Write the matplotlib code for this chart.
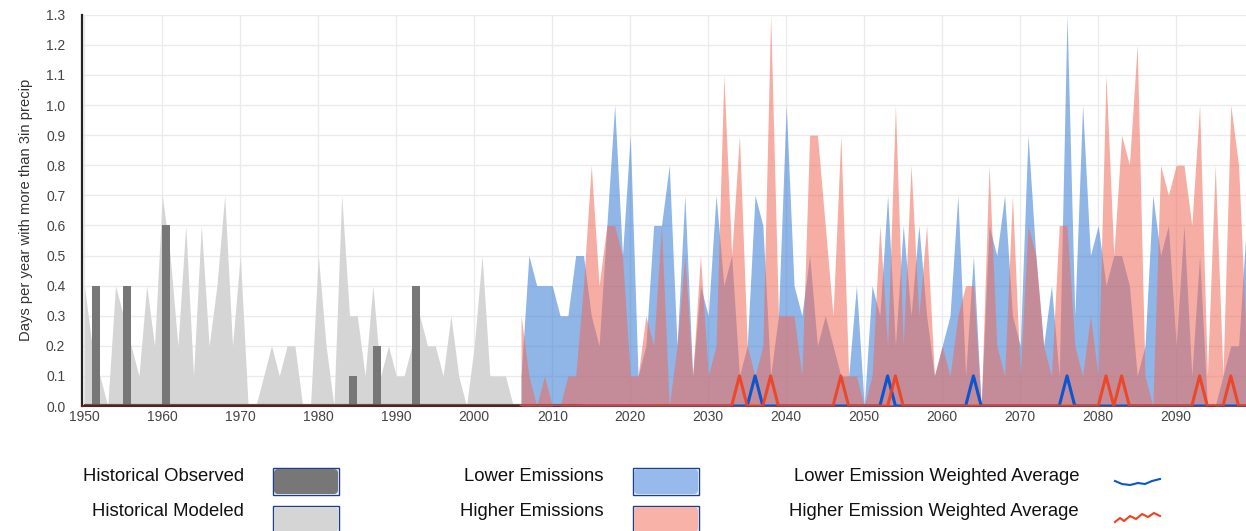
import numpy as np
import matplotlib
matplotlib.use('Agg')
import matplotlib.pyplot as plt
from matplotlib.patches import FancyBboxPatch, Rectangle

plt.rcParams['font.family'] = ['Liberation Sans', 'DejaVu Sans']

# historical modeled (gray area), 1950-2005
model_years = list(range(1950, 2006))
modeled = [0.4, 0.2, 0.1, 0.0, 0.4, 0.3, 0.2, 0.1, 0.4, 0.2,
           0.7, 0.5, 0.2, 0.6, 0.1, 0.6, 0.2, 0.4, 0.7, 0.2,
           0.5, 0.0, 0.0, 0.1, 0.2, 0.1, 0.2, 0.2, 0.0, 0.0,
           0.5, 0.2, 0.0, 0.7, 0.3, 0.3, 0.1, 0.4, 0.1, 0.2,
           0.1, 0.1, 0.2, 0.3, 0.2, 0.2, 0.1, 0.3, 0.1, 0.0,
           0.2, 0.5, 0.1, 0.1, 0.1, 0.0]

# historical observed (bars), 1950-2013
obs_years = list(range(1950, 2014))
observed = [0.0, 0.4, 0.0, 0.0, 0.0, 0.4, 0.0, 0.0, 0.0, 0.0,
            0.6, 0.0, 0.0, 0.0, 0.0, 0.0, 0.0, 0.0, 0.0, 0.0,
            0.0, 0.0, 0.0, 0.0, 0.0, 0.0, 0.0, 0.0, 0.0, 0.0,
            0.0, 0.0, 0.0, 0.0, 0.1, 0.0, 0.0, 0.2, 0.0, 0.0,
            0.0, 0.0, 0.4, 0.0, 0.0, 0.0, 0.0, 0.0, 0.0, 0.0,
            0.0, 0.0, 0.0, 0.0, 0.0, 0.0, 0.0, 0.0, 0.0, 0.0,
            0.0, 0.0, 0.0, 0.0]

# projections, 2006-2099
proj_years = list(range(2006, 2100))
lower_max = [0.1, 0.5, 0.4, 0.4, 0.4, 0.3, 0.3, 0.5, 0.5, 0.3,
             0.2, 0.6, 1.0, 0.5, 0.9, 0.1, 0.2, 0.6, 0.6, 0.8,
             0.2, 0.7, 0.1, 0.4, 0.3, 0.7, 0.4, 0.5, 0.1, 0.2,
             0.7, 0.6, 0.1, 0.3, 1.0, 0.4, 0.3, 0.5, 0.2, 0.3,
             0.2, 0.1, 0.1, 0.4, 0.0, 0.4, 0.3, 0.7, 0.2, 0.6,
             0.3, 0.6, 0.3, 0.1, 0.2, 0.3, 0.7, 0.1, 0.5, 0.0,
             0.6, 0.5, 0.7, 0.3, 0.2, 0.9, 0.5, 0.2, 0.4, 0.1,
             1.3, 0.3, 1.0, 0.5, 0.6, 0.4, 0.5, 0.5, 0.4, 0.1,
             0.2, 0.7, 0.5, 0.6, 0.2, 0.6, 0.1, 0.5, 0.0, 0.0,
             0.1, 0.2, 0.2, 0.6]
higher_max = [0.3, 0.1, 0.0, 0.1, 0.0, 0.0, 0.1, 0.1, 0.4, 0.8,
              0.4, 0.6, 0.6, 0.5, 0.1, 0.1, 0.3, 0.2, 0.6, 0.0,
              0.2, 0.5, 0.1, 0.5, 0.1, 0.2, 1.1, 0.5, 0.9, 0.2,
              0.1, 0.2, 1.3, 0.3, 0.3, 0.3, 0.1, 0.9, 0.9, 0.6,
              0.3, 0.9, 0.1, 0.1, 0.0, 0.1, 0.6, 0.2, 1.0, 0.2,
              0.8, 0.3, 0.6, 0.1, 0.2, 0.1, 0.3, 0.4, 0.4, 0.0,
              0.8, 0.2, 0.1, 0.7, 0.1, 0.6, 0.5, 0.2, 0.1, 0.6,
              0.6, 0.2, 0.1, 0.3, 0.1, 1.1, 0.5, 0.9, 0.8, 1.2,
              0.1, 0.0, 0.8, 0.7, 0.8, 0.8, 0.6, 1.0, 0.1, 0.8,
              0.1, 1.0, 0.8, 0.2]
lower_wavg = [0.0, 0.0, 0.0, 0.0, 0.0, 0.0, 0.0, 0.0, 0.0, 0.0,
              0.0, 0.0, 0.0, 0.0, 0.0, 0.0, 0.0, 0.0, 0.0, 0.0,
              0.0, 0.0, 0.0, 0.0, 0.0, 0.0, 0.0, 0.0, 0.0, 0.0,
              0.1, 0.0, 0.0, 0.0, 0.0, 0.0, 0.0, 0.0, 0.0, 0.0,
              0.0, 0.0, 0.0, 0.0, 0.0, 0.0, 0.0, 0.1, 0.0, 0.0,
              0.0, 0.0, 0.0, 0.0, 0.0, 0.0, 0.0, 0.0, 0.1, 0.0,
              0.0, 0.0, 0.0, 0.0, 0.0, 0.0, 0.0, 0.0, 0.0, 0.0,
              0.1, 0.0, 0.0, 0.0, 0.0, 0.0, 0.0, 0.0, 0.0, 0.0,
              0.0, 0.0, 0.0, 0.0, 0.0, 0.0, 0.0, 0.0, 0.0, 0.0,
              0.0, 0.0, 0.0, 0.0]
higher_wavg = [0.0, 0.0, 0.0, 0.0, 0.0, 0.0, 0.0, 0.0, 0.0, 0.0,
               0.0, 0.0, 0.0, 0.0, 0.0, 0.0, 0.0, 0.0, 0.0, 0.0,
               0.0, 0.0, 0.0, 0.0, 0.0, 0.0, 0.0, 0.0, 0.1, 0.0,
               0.0, 0.0, 0.1, 0.0, 0.0, 0.0, 0.0, 0.0, 0.0, 0.0,
               0.0, 0.1, 0.0, 0.0, 0.0, 0.0, 0.0, 0.0, 0.1, 0.0,
               0.0, 0.0, 0.0, 0.0, 0.0, 0.0, 0.0, 0.0, 0.0, 0.0,
               0.0, 0.0, 0.0, 0.0, 0.0, 0.0, 0.0, 0.0, 0.0, 0.0,
               0.0, 0.0, 0.0, 0.0, 0.0, 0.1, 0.0, 0.1, 0.0, 0.0,
               0.0, 0.0, 0.0, 0.0, 0.0, 0.0, 0.0, 0.1, 0.0, 0.0,
               0.0, 0.1, 0.0, 0.0]

x_ticks = list(range(1950, 2100, 10))
y_ticks = [round(0.1 * i, 1) for i in range(14)]

fig = plt.figure(figsize=(12.46, 5.31), dpi=100)
ax = fig.add_axes([0.0658, 0.2354, 0.9342, 0.7369])

ax.fill_between(model_years, 0, modeled, color='#d5d5d5', lw=0, zorder=1)
ax.bar(obs_years, observed, width=1.0, align='edge', color='#777777', lw=0, zorder=2)
ax.hlines(0, obs_years[0], obs_years[-1] + 1, color='#555555', lw=3, zorder=2)
ax.fill_between(proj_years, 0, lower_max, color='#357ad5', alpha=0.55, lw=0, zorder=3)
ax.fill_between(proj_years, 0, higher_max, color='#f06a58', alpha=0.55, lw=0, zorder=4)
ax.plot(proj_years, lower_wavg, color='#0a55d0', lw=2.2, zorder=5)
ax.plot(proj_years, higher_wavg, color='#f2401d', lw=2.2, zorder=6, alpha=0.9)

ax.set_xlim(1949.7, 2098.95)
ax.set_ylim(0, 1.3)
ax.set_xticks(x_ticks)
ax.set_yticks(y_ticks)
ax.set_yticklabels(['%.1f' % v for v in y_ticks])
ax.grid(True, color='#ebebeb', lw=1)
ax.set_axisbelow(True)
ax.tick_params(axis='both', length=0, labelsize=10, colors='#444444')
ax.tick_params(axis='y', pad=12)
ax.tick_params(axis='x', pad=3)
for s in ['top', 'right']:
    ax.spines[s].set_visible(False)
ax.spines['left'].set_color('#222222')
ax.spines['left'].set_linewidth(1.6)
ax.spines['bottom'].set_color('#5a1f1f')
ax.spines['bottom'].set_linewidth(1.5)
ax.set_ylabel('Days per year with more than 3in precip', fontsize=10.6, color='#333333', labelpad=9)

# legend drawn in pixel coordinates under the chart
lg = fig.add_axes([0, 0, 1, 125 / 531])
lg.set_xlim(0, 1246)
lg.set_ylim(531, 406)
lg.axis('off')

def swatch(x, y, face):
    lg.add_patch(Rectangle((x, y), 66, 27, facecolor='none', edgecolor='#1c3f8c', lw=1))
    lg.add_patch(FancyBboxPatch((x + 1, y + 1), 64, 25, boxstyle='round,pad=0,rounding_size=4',
                                facecolor=face, edgecolor='none'))

items = [
    ('Historical Observed', 244, 477, 'sw', '#777777'),
    ('Historical Modeled', 244, 512, 'sw', '#d5d5d5'),
    ('Lower Emissions', 604, 477, 'sw', '#97b9eb'),
    ('Higher Emissions', 604, 512, 'sw', '#f9b2a8'),
    ('Lower Emission Weighted Average', 1079, 477, 'ln', '#0a55d0'),
    ('Higher Emission Weighted Average', 1079, 512, 'ln', '#f2401d'),
]
for label, tx, ty, kind, col in items:
    lg.text(tx, ty, label, ha='right', va='center', fontsize=13.3, color='#111111')
    if kind == 'sw':
        swatch(tx + 29, ty - 9 if ty < 500 else ty - 6, col)
    elif ty < 500:
        lg.plot([1115, 1122, 1130, 1138, 1145, 1152, 1160],
                [481, 484, 485, 483, 484, 481, 479], color=col, lw=1.5)
    else:
        lg.plot([1115, 1120, 1124, 1130, 1136, 1142, 1148, 1154, 1160],
                [522, 518, 521, 516, 519, 514, 517, 513, 516], color=col, lw=1.5)

fig.savefig('out.png', dpi=100)
